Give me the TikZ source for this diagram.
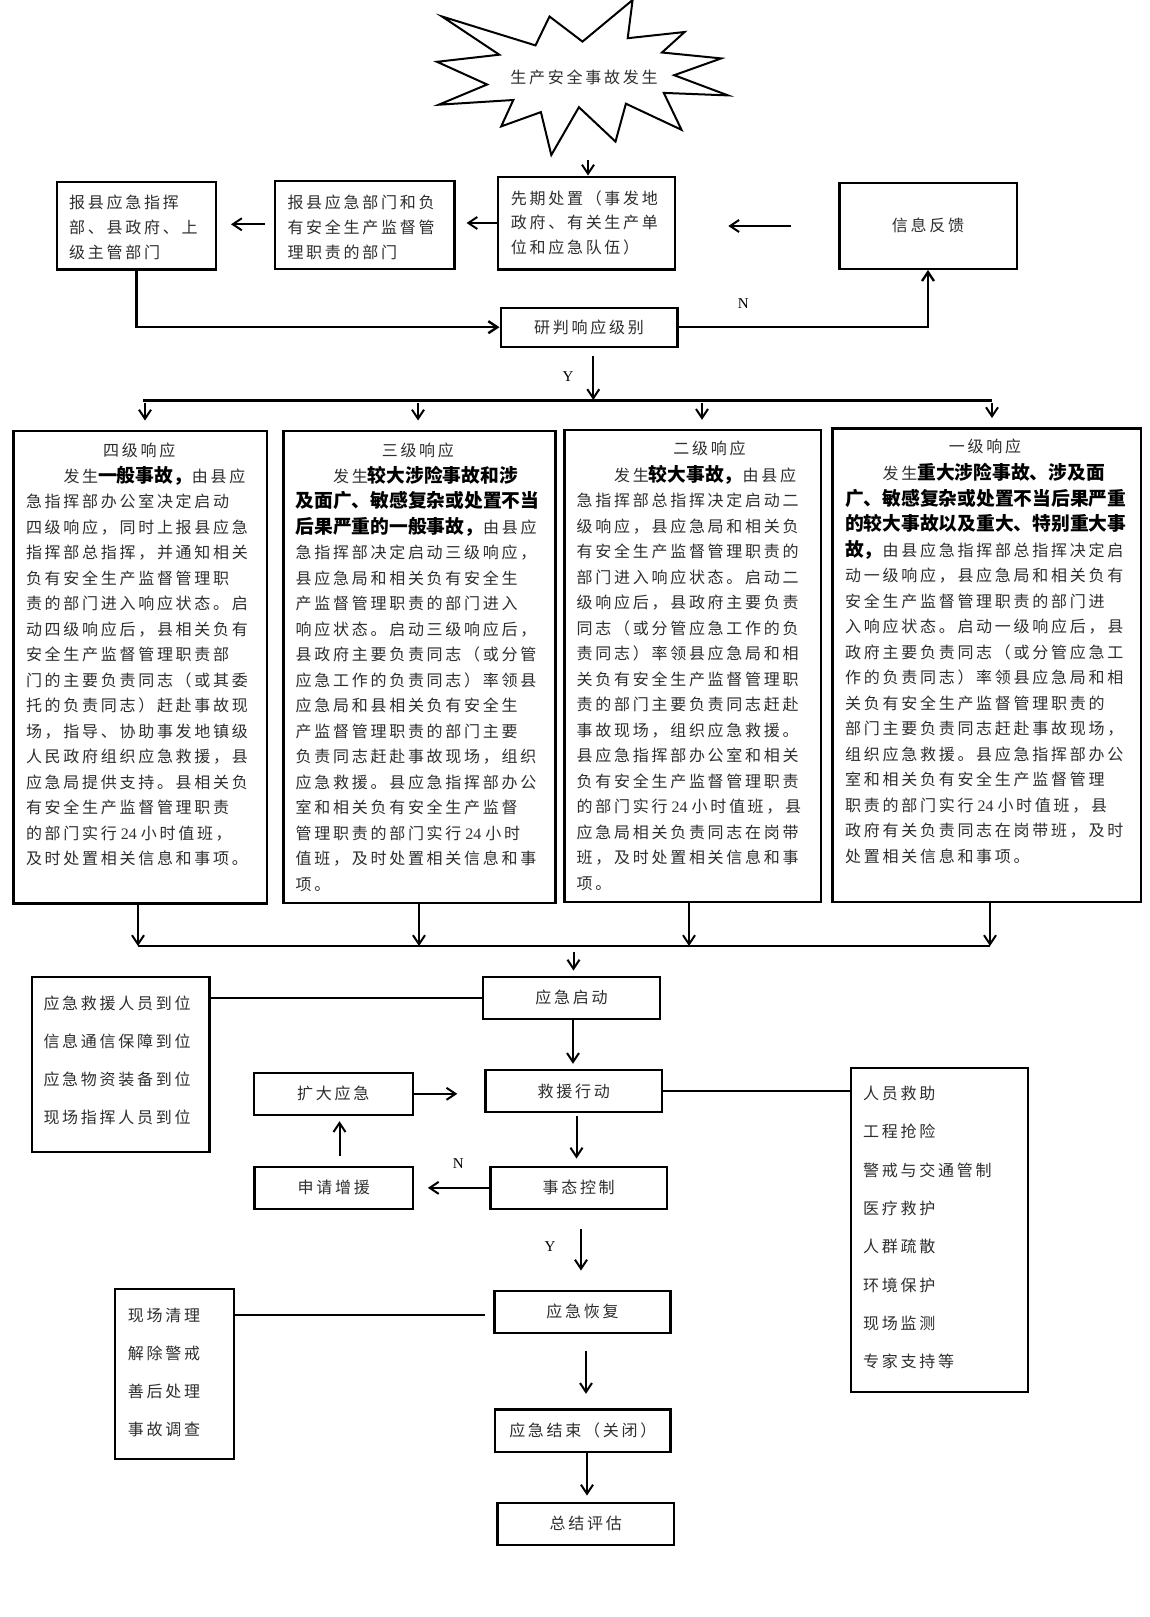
\documentclass[tikz,border=0pt]{standalone}
\usepackage{fontspec}
\newfontfamily\zh{Noto Sans CJK SC}[LetterSpace=17]
\newfontfamily\zhb{Noto Sans CJK SC}
\newfontfamily\lat{Liberation Serif}
\usetikzlibrary{arrows.meta,calc}
\newcommand{\B}[1]{{\color{black}\zhb\bfseries\fontsize{18.75}{25.5}\selectfont #1}}
\newcommand{\D}{{\lat\hspace{4pt}24\hspace{4pt}}}
\newcommand{\st}{\rule{0pt}{20pt}}
\newcommand{\mkbox}[6]{\node[box,minimum width={(#4)-(#2)},minimum height={(#5)-(#3)}] (#1) at ({((#2)+(#4))/2},{((#3)+(#5))/2}) {#6};}
\begin{document}
\begin{tikzpicture}[x=1pt,y=-1pt,
 box/.style={draw,line width=2.4pt,inner sep=0pt,text=black!82,font=\zh\fontsize{16}{20}\selectfont},
 body/.style={font=\zh\fontsize{16}{#1}\selectfont,text=black!82,align=left,anchor=north west,inner sep=0pt},
 ttl/.style={font=\zh\fontsize{16}{20}\selectfont,text=black!82,inner sep=0pt},
 lab/.style={font=\lat\fontsize{15}{18}\selectfont,inner sep=0pt},
 arr/.style={line width=2pt,-{Straight Barb[length=9pt,width=12pt]}},
 conn/.style={line width=2.4pt},
 bar/.style={line width=2.8pt}]
\useasboundingbox[fill=white] (0,0) rectangle (1149,1617);

% star
\draw[line width=2pt,line join=miter] (582.5,41.6) -- (632.6,0) -- (627.7,38.2) -- (684.6,32.0) -- (662.0,52.5) -- (721.2,58.4) -- (674.2,75.2) -- (728,95.4) -- (663.8,92.9) -- (681.5,129.8) -- (625.9,103.7) -- (615.5,141.6) -- (578.9,107.2) -- (551.3,155) -- (540.9,112.1) -- (501.2,126.4) -- (513.3,100) -- (438.8,104.7) -- (487.1,84.5) -- (437,61.8) -- (499.3,54.7) -- (442,16.5) -- (535.5,45.4) -- (549.5,16.5) -- cycle;
\node[ttl] (star) at (584,77) {生产安全事故发生};

% top row
\mkbox{bx1}{56.7}{181.7}{216}{269.3}{}
\mkbox{bx2}{275}{180.7}{454.3}{268.7}{}
\mkbox{bx3}{497.7}{176.7}{675}{269.3}{}
\mkbox{bx4}{839.3}{182.7}{1016.7}{268.7}{信息反馈}
\node[body=25] (t1) at (69,187.8) {\st 报县应急指挥\\部、县政府、上\\级主管部门};
\node[body=25] (t2) at (287.3,187.8) {\st 报县应急部门和负\\有安全生产监督管\\理职责的部门};
\node[body=24.8] (t3) at (510.7,183.8) {\st 先期处置（事发地\\政府、有关生产单\\位和应急队伍）};
\mkbox{yp}{500.7}{307.7}{677.3}{346.7}{研判响应级别}

% response boxes
\mkbox{r4}{13.3}{430.7}{266.7}{903.3}{}
\mkbox{r3}{283.3}{430.7}{555.4}{902.7}{}
\mkbox{r2}{564.5}{430}{821}{901.7}{}
\mkbox{r1}{832.4}{428.3}{1140.8}{901.7}{}
\node[ttl] (h4) at (139.3,450) {四级响应};
\node[ttl] (h3) at (417.9,450) {三级响应};
\node[ttl] (h2) at (709.5,448.3) {二级响应};
\node[ttl] (h1) at (985,446.7) {一级响应};
\node[body=25.5] (b4) at (25.8,462.1) {\st\hspace*{37.5pt}发生\B{一般事故，}由县应\\
急指挥部办公室决定启动\\
四级响应，同时上报县应急\\
指挥部总指挥，并通知相关\\
负有安全生产监督管理职\\
责的部门进入响应状态。启\\
动四级响应后，县相关负有\\
安全生产监督管理职责部\\
门的主要负责同志（或其委\\
托的负责同志）赶赴事故现\\
场，指导、协助事发地镇级\\
人民政府组织应急救援，县\\
应急局提供支持。县相关负\\
有安全生产监督管理职责\\
的部门实行\D 小时值班，\\
及时处置相关信息和事项。};
\node[body=25.5] (b3) at (295.5,462.1) {\st\hspace*{37.5pt}发生\B{较大涉险事故和涉}\\
\B{及面广、敏感复杂或处置不当}\\
\B{后果严重的一般事故，}由县应\\
急指挥部决定启动三级响应，\\
县应急局和相关负有安全生\\
产监督管理职责的部门进入\\
响应状态。启动三级响应后，\\
县政府主要负责同志（或分管\\
应急工作的负责同志）率领县\\
应急局和县相关负有安全生\\
产监督管理职责的部门主要\\
负责同志赶赴事故现场，组织\\
应急救援。县应急指挥部办公\\
室和相关负有安全生产监督\\
管理职责的部门实行\D 小时\\
值班，及时处置相关信息和事\\
项。};
\node[body=25.5] (b2) at (576.5,461.1) {\st\hspace*{37.5pt}发生\B{较大事故，}由县应\\
急指挥部总指挥决定启动二\\
级响应，县应急局和相关负\\
有安全生产监督管理职责的\\
部门进入响应状态。启动二\\
级响应后，县政府主要负责\\
同志（或分管应急工作的负\\
责同志）率领县应急局和相\\
关负有安全生产监督管理职\\
责的部门主要负责同志赶赴\\
事故现场，组织应急救援。\\
县应急指挥部办公室和相关\\
负有安全生产监督管理职责\\
的部门实行\D 小时值班，县\\
应急局相关负责同志在岗带\\
班，及时处置相关信息和事\\
项。};
\node[body=25.5] (b1) at (845,459.4) {\st\hspace*{37.5pt}发生\B{重大涉险事故、涉及面}\\
\B{广、敏感复杂或处置不当后果严重}\\
\B{的较大事故以及重大、特别重大事}\\
\B{故，}由县应急指挥部总指挥决定启\\
动一级响应，县应急局和相关负有\\
安全生产监督管理职责的部门进\\
入响应状态。启动一级响应后，县\\
政府主要负责同志（或分管应急工\\
作的负责同志）率领县应急局和相\\
关负有安全生产监督管理职责的\\
部门主要负责同志赶赴事故现场，\\
组织应急救援。县应急指挥部办公\\
室和相关负有安全生产监督管理\\
职责的部门实行\D 小时值班，县\\
政府有关负责同志在岗带班，及时\\
处置相关信息和事项。};

% lower part
\mkbox{L1}{31.7}{976.7}{209.3}{1151.7}{}
\node[body=38] (tl1) at (43.3,989.4) {\st 应急救援人员到位\\信息通信保障到位\\应急物资装备到位\\现场指挥人员到位};
\mkbox{qd}{483}{976.7}{660}{1019}{应急启动}
\mkbox{jy}{485.5}{1070}{662}{1112}{救援行动}
\mkbox{kd}{253.7}{1072.7}{412.7}{1115}{扩大应急}
\mkbox{sk}{490.5}{1166.7}{666.8}{1209}{事态控制}
\mkbox{sq}{254.4}{1166.7}{413}{1209}{申请增援}
\mkbox{L2}{850.7}{1067.7}{1028}{1391.7}{}
\node[body=38.34] (tl2) at (863,1079.4) {\st 人员救助\\工程抢险\\警戒与交通管制\\医疗救护\\人群疏散\\环境保护\\现场监测\\专家支持等};
\mkbox{hf}{494.5}{1290.7}{670.6}{1332.7}{应急恢复}
\mkbox{L3}{114.7}{1288.7}{233.8}{1459}{}
\node[body=38.1] (tl3) at (127.7,1301.1) {\st 现场清理\\解除警戒\\善后处理\\事故调查};
\mkbox{js}{495}{1409.6}{670.6}{1451.7}{应急结束（关闭）}
\mkbox{zj}{497.6}{1502.7}{674}{1545}{总结评估}

% connectors top
\coordinate (s1) at (588,160);
\draw[arr] (s1) -- (s1 |- bx3.north);
\coordinate (a2) at ($(bx2.east)+(11,0)$);
\draw[arr] (bx3.west) -- (bx3.west -| a2);
\coordinate (a3s) at (265,224.3);
\coordinate (a3e) at (231,224.3);
\draw[arr] (a3s) -- (a3e);
\coordinate (a4s) at (790.7,226);
\coordinate (a4e) at (728.3,226);
\draw[arr] (a4s) -- (a4e);
\draw[arr,line width=2.4pt] (bx1.south) |- (yp.west);
\draw[arr,line width=2.4pt] (yp.east) -| (bx4.south);
\node[lab] (nN1) at (743.3,304) {N};
\coordinate (y1) at (593.3,356);
\coordinate (y2) at (593.3,400);
\draw[arr] (y1) -- (y2);
\node[lab] (nY1) at (568,376.7) {Y};
\coordinate (b1l) at (143,400.7);
\coordinate (b1r) at (992.3,400.7);
\draw[bar] (b1l) -- (b1r);
\foreach \x/\n in {145/r4,418/r3,702/r2,992/r1}
  \draw[arr] (\x,403) -- ($(\n.north -| \x,0)+(0,-9)$);
\foreach \x/\n in {138/r4,419/r3,689/r2,990/r1}
  \draw[arr] (\n.south -| \x,0) -- (\x,946);
\coordinate (b2l) at (138,946);
\coordinate (b2r) at (990,946);
\draw[bar] (b2l) -- (b2r);

% connectors bottom
\draw[arr] (573.5,951.7) -- ($(qd.north -| 573.5,0)+(0,-5)$);
\draw[conn] (L1.east |- qd.west) -- (qd.west);
\draw[arr] (qd.south -| 573,0) -- ($(jy.north -| 573,0)+(0,-5)$);
\draw[arr] (kd.east) -- ($(jy.west |- kd.east)+(-27,0)$);
\draw[conn] (jy.east) -- (jy.east -| L2.west);
\draw[arr] ($(jy.south -| 576.5,0)+(0,3)$) -- ($(sk.north -| 576.5,0)+(0,-7)$);
\draw[arr] (sk.west) -- ($(sq.east |- sk.west)+(13.7,0)$);
\node[lab] (nN2) at (458.3,1163.3) {N};
\draw[arr] ($(sq.north -| 339.5,0)+(0,-10)$) -- ($(kd.south -| 339.5,0)+(0,5)$);
\draw[arr] ($(sk.south -| 581,0)+(0,19)$) -- ($(hf.north -| 581,0)+(0,-19)$);
\node[lab] (nY2) at (550,1246.7) {Y};
\coordinate (l3e) at (485,1314.7);
\draw[conn] (l3e -| L3.east) -- (l3e);
\draw[arr] ($(hf.south -| 586,0)+(0,17)$) -- ($(js.north -| 586,0)+(0,-14.6)$);
\draw[arr] (js.south -| 587,0) -- ($(zj.north -| 587,0)+(0,-6)$);
\end{tikzpicture}
\end{document}
